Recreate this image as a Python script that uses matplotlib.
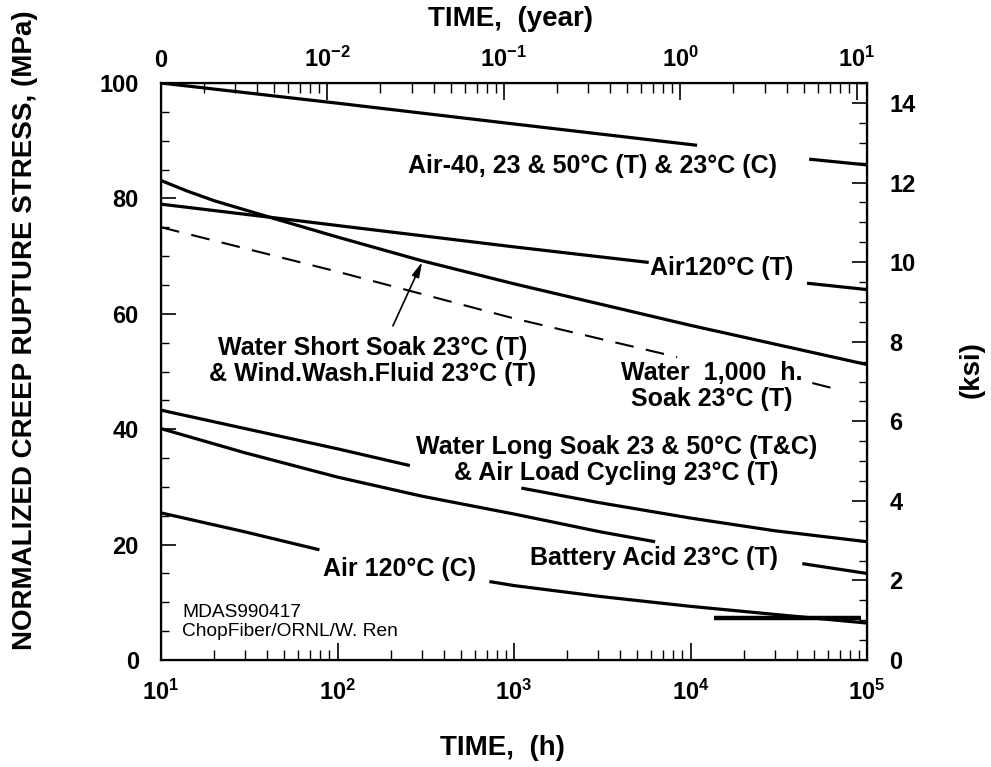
import matplotlib
matplotlib.use("Agg")
import matplotlib.pyplot as plt
from matplotlib.ticker import FixedLocator, LogLocator, MultipleLocator, NullFormatter

plt.rcParams["font.family"] = ["Liberation Sans", "DejaVu Sans"]
plt.rcParams["font.weight"] = "bold"
plt.rcParams["mathtext.fontset"] = "custom"
plt.rcParams["mathtext.rm"] = "Liberation Sans:bold"
plt.rcParams["mathtext.bf"] = "Liberation Sans:bold"
plt.rcParams["mathtext.it"] = "Liberation Sans:bold:italic"
plt.rcParams["mathtext.default"] = "rm"

# ---- creep rupture curves: time (h) vs normalized stress (MPa) ----
# curves are split where their labels sit on the chart
air40_h1 = [10, 100, 1000, 10900]
air40_s1 = [100.0, 96.5, 92.9, 89.2]
air40_h2 = [47000, 100000]
air40_s2 = [86.8, 85.8]

air120t_h1 = [10, 45, 100, 1000, 5800]
air120t_s1 = [79.0, 76.6, 75.3, 71.6, 68.9]
air120t_h2 = [45700, 100000]
air120t_s2 = [65.3, 64.2]

short_soak_h = [10, 14, 20, 45, 100, 300, 1000, 10000, 100000]
short_soak_s = [83.1, 81.3, 79.6, 76.4, 73.3, 69.2, 65.2, 58.0, 51.2]

water1000_h1 = [10, 100, 1000, 8400]
water1000_s1 = [75.0, 67.3, 59.2, 52.5]
water1000_h2 = [49000, 70000]
water1000_s2 = [48.0, 46.8]

long_soak_h1 = [10, 100, 257]
long_soak_s1 = [43.3, 36.6, 33.7]
long_soak_h2 = [1100, 3000, 10000, 30000, 100000]
long_soak_s2 = [29.8, 27.3, 24.6, 22.4, 20.5]

battery_h1 = [10, 30, 100, 300, 1000, 3100, 6300]
battery_s1 = [40.1, 35.9, 31.7, 28.4, 25.3, 22.2, 20.5]
battery_h2 = [43000, 100000]
battery_s2 = [16.7, 15.0]

air120c_h1 = [10, 30, 79]
air120c_s1 = [25.5, 22.2, 19.1]
air120c_h2 = [725, 1000, 3100, 10000, 30000, 100000]
air120c_s2 = [13.6, 12.9, 11.0, 9.3, 7.9, 6.4]

marker_bar_h = [13500, 93000]
marker_bar_s = [7.3, 7.3]

# arrow from the short-soak label to its curve
arrow_tail = (206, 57.9)
arrow_head = (302, 69.0)

# ---- axes settings ----
hour_ticks = [10, 100, 1000, 10000, 100000]
hour_labels = ["$10^{1}$", "$10^{2}$", "$10^{3}$", "$10^{4}$", "$10^{5}$"]
year_ticks = [0.01, 0.1, 1, 10]
year_labels = ["$10^{-2}$", "$10^{-1}$", "$10^{0}$", "$10^{1}$"]
HOURS_PER_YEAR = 8760.0
MPA_PER_KSI = 6.895
mpa_ticks = [0, 20, 40, 60, 80, 100]
ksi_ticks = [0, 2, 4, 6, 8, 10, 12, 14]

W, H = 991, 767
fig = plt.figure(figsize=(W / 100, H / 100), dpi=100)
ax = fig.add_axes([161 / W, 107 / H, 706 / W, 577 / H])

ax.set_xscale("log")
ax.set_xlim(10, 1e5)
ax.set_ylim(0, 100)

solid = dict(color="black", lw=2.3, solid_capstyle="butt", solid_joinstyle="round")
for h, s in [(air40_h1, air40_s1), (air40_h2, air40_s2),
             (air120t_h1, air120t_s1), (air120t_h2, air120t_s2),
             (short_soak_h, short_soak_s),
             (long_soak_h1, long_soak_s1), (long_soak_h2, long_soak_s2),
             (battery_h1, battery_s1), (battery_h2, battery_s2),
             (air120c_h1, air120c_s1), (air120c_h2, air120c_s2)]:
    ax.plot(h, s, **solid)

dashed = dict(color="black", lw=1.5, dashes=(9, 6))
ax.plot(water1000_h1, water1000_s1, **dashed)
ax.plot(water1000_h2, water1000_s2, **dashed)

ax.plot(marker_bar_h, marker_bar_s, color="black", lw=3.2, solid_capstyle="butt")

ax.annotate("", xy=arrow_head, xytext=arrow_tail,
            arrowprops=dict(arrowstyle="-|>,head_length=0.9,head_width=0.22",
                            color="black", lw=1.2, shrinkA=0, shrinkB=0))

# ---- curve labels ----
lab = dict(fontsize=18, fontweight="bold", ha="center", va="center",
           multialignment="center", linespacing=1.1)
ax.text(2770, 85.6, "Air-40, 23 & 50\u00b0C (T) & 23\u00b0C (C)", **lab)
ax.text(15100, 67.9, "Air120\u00b0C (T)", **lab)
ax.text(158, 51.8, "Water Short Soak 23\u00b0C (T)\n& Wind.Wash.Fluid 23\u00b0C (T)", **lab)
ax.text(13200, 47.5, "Water  1,000  h.\nSoak 23\u00b0C (T)", **lab)
ax.text(3800, 34.6, "Water Long Soak 23 & 50\u00b0C (T&C)\n& Air Load Cycling 23\u00b0C (T)", **lab)
ax.text(6200, 17.7, "Battery Acid 23\u00b0C (T)", **lab)
ax.text(226, 15.8, "Air 120\u00b0C (C)", **lab)
ax.text(13.2, 6.6, "MDAS990417\nChopFiber/ORNL/W. Ren", fontsize=13.8, fontweight="normal",
        ha="left", va="center", linespacing=1.1)

# ---- bottom / left axes ----
for sp in ax.spines.values():
    sp.set_linewidth(1.6)
ax.xaxis.set_major_locator(FixedLocator(hour_ticks))
ax.set_xticklabels(hour_labels)
ax.xaxis.set_minor_locator(LogLocator(base=10, subs=range(2, 10)))
ax.xaxis.set_minor_formatter(NullFormatter())
ax.set_yticks(mpa_ticks)
ax.yaxis.set_minor_locator(MultipleLocator(5))
ax.tick_params(which="both", direction="in", top=False, right=False)
ax.tick_params(axis="x", which="major", length=12, width=1.2, pad=14, labelsize=17)
ax.tick_params(axis="x", which="minor", length=7, width=1.0)
ax.tick_params(axis="y", which="major", length=11, width=1.2, pad=16, labelsize=17)
ax.tick_params(axis="y", which="minor", length=6, width=1.0)

# ---- right axis in ksi ----
axr = ax.twinx()
axr.set_ylim(0, 100 / MPA_PER_KSI)
axr.set_yticks(ksi_ticks)
axr.yaxis.set_minor_locator(MultipleLocator(0.5))
axr.tick_params(axis="y", which="major", direction="in", length=11, width=1.2,
                pad=16, labelsize=17)
axr.tick_params(axis="y", which="minor", direction="in", length=6, width=1.0)

# ---- top axis in years ----
axt = ax.twiny()
axt.set_xscale("log")
axt.set_xlim(ax.get_xlim())
top_pos = [10] + [y * HOURS_PER_YEAR for y in year_ticks]
axt.xaxis.set_major_locator(FixedLocator(top_pos))
axt.set_xticklabels(["0"] + year_labels)
minor_years = [m * 10.0 ** e for e in range(-3, 1) for m in range(2, 10)]
axt.xaxis.set_minor_locator(FixedLocator(
    [y * HOURS_PER_YEAR for y in minor_years if 10 < y * HOURS_PER_YEAR < 1e5]))
axt.xaxis.set_minor_formatter(NullFormatter())
axt.tick_params(axis="x", which="major", direction="in", length=12, width=1.2,
                pad=8, labelsize=17)
axt.tick_params(axis="x", which="minor", direction="in", length=7, width=1.0)

# ---- axis titles ----
fig.text(502 / W, 1 - 748 / H, "TIME,  (h)", fontsize=20, fontweight="bold",
         ha="center", va="center")
fig.text(510 / W, 1 - 19 / H, "TIME,  (year)", fontsize=20, fontweight="bold",
         ha="center", va="center")
fig.text(25 / W, 1 - 330 / H, "NORMALIZED CREEP RUPTURE STRESS, (MPa)", fontsize=20,
         fontweight="bold", ha="center", va="center", rotation=90)
fig.text(972 / W, 1 - 370 / H, "(ksi)", fontsize=20, fontweight="bold",
         ha="center", va="center", rotation=90)

fig.savefig("out.png", dpi=100, facecolor="white")
